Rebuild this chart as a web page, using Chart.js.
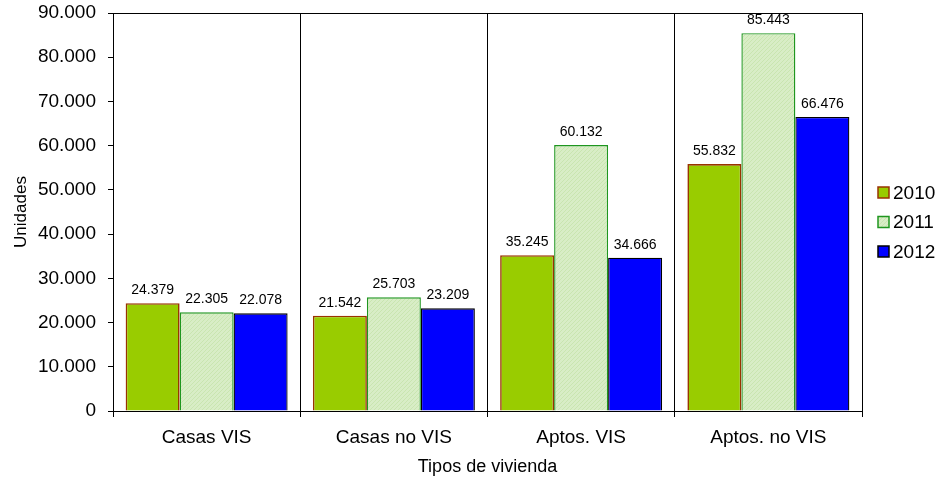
<!DOCTYPE html>
<html>
<head>
<meta charset="utf-8">
<script src="https://cdn.jsdelivr.net/npm/chart.js@4/dist/chart.umd.min.js"></script>
<style>
  html, body { margin: 0; padding: 0; background: #fff; }
  #wrap { width: 939px; height: 480px; }
</style>
</head>
<body>
<div id="wrap"><canvas id="myChart" width="939" height="480"></canvas></div>
<script>
const categories = ['Casas VIS', 'Casas no VIS', 'Aptos. VIS', 'Aptos. no VIS'];
const seriesNames = ['2010', '2011', '2012'];
const units2010 = [24379, 21542, 35245, 55832];
const units2011 = [22305, 25703, 60132, 85443];
const units2012 = [22078, 23209, 34666, 66476];
const yMax = 90000;
const yStep = 10000;

function fmt(v) {
    return String(v).replace(/\B(?=(\d{3})+(?!\d))/g, '.');
}

// light green hatched fill for 2011
function hatch() {
    var c = document.createElement('canvas');
    c.width = 4; c.height = 4;
    var g = c.getContext('2d');
    g.fillStyle = '#d8edc6';
    g.fillRect(0, 0, 4, 4);
    g.fillStyle = '#c9e5b0';
    for (var i = 0; i < 4; i++) g.fillRect(3 - i, i, 1, 1);
    return g.createPattern(c, 'repeat');
}

const FONT = 'Liberation Sans, Arial, sans-serif';

const valueLabels = {
    id: 'valueLabels',
    afterDatasetsDraw: function (chart) {
        var ctx = chart.ctx;
        ctx.save();
        ctx.font = '14px ' + FONT;
        ctx.fillStyle = '#000';
        ctx.textAlign = 'center';
        ctx.textBaseline = 'alphabetic';
        chart.data.datasets.forEach(function (ds, i) {
            chart.getDatasetMeta(i).data.forEach(function (bar, j) {
                ctx.fillText(fmt(ds.data[j]), bar.x, bar.y - 9);
            });
        });
        ctx.restore();
    }
};

const sideLegend = {
    id: 'sideLegend',
    afterDraw: function (chart) {
        var ctx = chart.ctx;
        var area = chart.chartArea;
        var mid = (area.top + area.bottom) / 2 + 10;
        ctx.save();
        ctx.font = '19px ' + FONT;
        ctx.textBaseline = 'middle';
        ctx.textAlign = 'left';
        chart.data.datasets.forEach(function (ds, i) {
            var y = mid + (i - 1) * 29.5;
            var x = area.right + 16;
            ctx.fillStyle = ds.backgroundColor;
            ctx.fillRect(x, y - 5.5, 11, 11);
            ctx.strokeStyle = ds.borderColor;
            ctx.lineWidth = 1.5;
            ctx.strokeRect(x, y - 5.5, 11, 11);
            ctx.fillStyle = '#000';
            ctx.fillText(ds.label, x + 15, y + 1);
        });
        ctx.restore();
    }
};

var ctx = document.getElementById('myChart');
var chart = new Chart(ctx, {
    type: 'bar',
    data: {
        labels: categories,
        datasets: [
            { label: seriesNames[0], data: units2010, backgroundColor: '#99cc00', borderColor: '#993300', borderWidth: 1.6 },
            { label: seriesNames[1], data: units2011, backgroundColor: hatch(), borderColor: '#1f961f', borderWidth: 1.4 },
            { label: seriesNames[2], data: units2012, backgroundColor: '#0000ff', borderColor: '#000000', borderWidth: 1.3 }
        ]
    },
    options: {
        responsive: false,
        animation: false,
        devicePixelRatio: 1,
        layout: { padding: { left: 0, top: 13, right: 77, bottom: 0 } },
        categoryPercentage: 0.865,
        barPercentage: 1,
        plugins: {
            legend: { display: false },
            tooltip: { enabled: false }
        },
        scales: {
            x: {
                grid: { color: '#000', tickColor: '#000', tickLength: 6, offset: true },
                border: { color: '#000', width: 1 },
                ticks: { color: '#000', font: { family: FONT, size: 19 }, padding: 9 },
                title: { display: true, text: 'Tipos de vivienda', color: '#000', font: { family: FONT, size: 18 }, padding: { top: 0, bottom: 2 } },
                afterFit: function (s) { s.height = 69; s.paddingLeft = 0; s.paddingRight = 0; }
            },
            y: {
                min: 0,
                max: yMax,
                ticks: { stepSize: yStep, color: '#000', font: { family: FONT, size: 19 }, padding: 12, callback: function (v) { return fmt(v); } },
                grid: {
                    color: function (c) { return c.tick && c.tick.value === yMax ? '#000' : 'rgba(0,0,0,0)'; },
                    tickColor: '#000',
                    tickLength: 5
                },
                border: { color: '#000', width: 1 },
                title: { display: true, text: 'Unidades', color: '#000', font: { family: FONT, size: 17 }, padding: { top: 11, bottom: 0 } },
                afterFit: function (s) { s.width = 113; s.paddingTop = 0; s.paddingBottom = 0; }
            }
        }
    },
    plugins: [valueLabels, sideLegend]
});
</script>
</body>
</html>
